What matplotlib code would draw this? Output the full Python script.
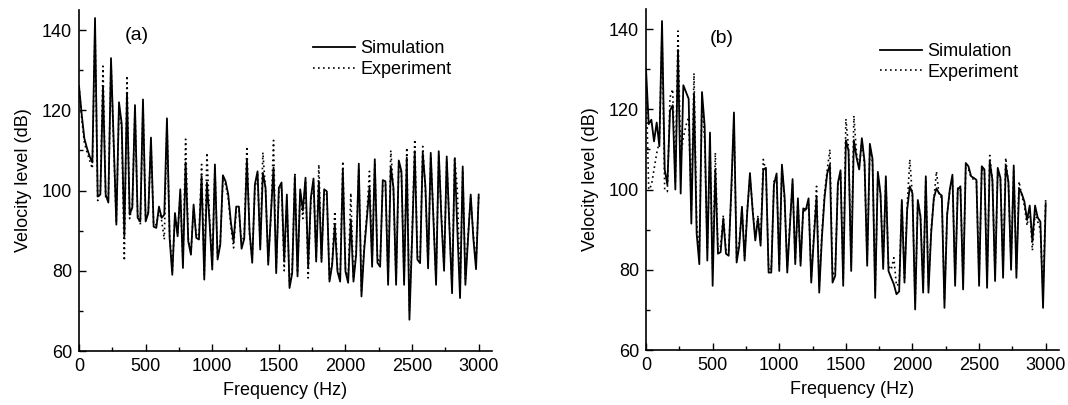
import matplotlib
matplotlib.use("Agg")
import matplotlib.pyplot as plt
from matplotlib.ticker import MultipleLocator
import numpy as np

plt.rcParams['font.family'] = ['Liberation Sans', 'DejaVu Sans']

# frequency axis, 20 Hz steps from 0 to 3000 Hz
freq = np.arange(0, 3001, 20)

# panel (a)
sim_a = [126, 119, 113, 110.5, 108.5, 107, 143, 98.5, 99, 126,
         99, 97, 133, 112, 91.5, 122, 116.7, 88.6, 124.4, 94,
         95.8, 121.3, 93.2, 92.3, 122.7, 92.3, 94.4, 113.2, 91, 90.7,
         96, 93.2, 94, 118, 88.2, 79, 94.4, 88.6, 100.3, 80.7,
         107, 87.3, 84, 96.5, 88.2, 87.8, 103.6, 77.8, 102, 92,
         80.3, 106.5, 82.8, 86.5, 103.8, 102.3, 99, 92, 87.3, 96,
         96, 85.5, 88, 107.7, 89.8, 82, 101.5, 104.8, 85.3, 104.4,
         100.7, 81.5, 94, 105.7, 79.4, 100.7, 102, 82.3, 99, 75.7,
         79.4, 103.6, 78.6, 100.3, 95, 103.2, 81, 98.2, 103, 82.3,
         102.3, 82.2, 100.3, 99.8, 77.3, 81.5, 91.5, 79.8, 77.3, 105.3,
         79.8, 77, 92.8, 77.3, 84, 106.7, 73.6, 85, 93, 100.7,
         81, 107.8, 82, 81, 102.6, 102.3, 76.5, 106, 100.7, 76.5,
         107.5, 104.8, 76.5, 108.2, 67.8, 88, 109.8, 82.8, 81.9, 109.4,
         101, 80.6, 109.4, 93, 76.5, 109.8, 93, 80, 108.5, 91,
         74.4, 108, 90, 73.2, 106, 76.5, 88, 99, 88, 80.4,
         99]

exp_a = [126, 118, 112, 109.5, 107.5, 105.5, 141, 97.5, 100, 131,
         98, 98, 132, 111, 92, 121, 115.5, 82.5, 128.6, 93,
         96.5, 120, 94, 91.5, 121.5, 93, 95, 112, 91.5, 91.5,
         95, 92.5, 87.8, 117, 89, 80, 93.5, 89.5, 99, 82,
         112.8, 88, 84.5, 95.5, 89, 88.5, 106.5, 79, 109.4, 93,
         81.5, 105.5, 83.5, 87, 102.5, 101.5, 98, 91, 85.7, 95,
         95, 86.5, 89, 111, 89, 83, 100.5, 104, 86, 109.5,
         100, 82.5, 93, 112.5, 80.5, 99.5, 101, 80, 98, 76.5,
         80.5, 104, 79.5, 99.5, 93, 102.5, 78.2, 97.5, 102, 83,
         106.5, 83, 99.5, 99, 78, 82, 94.8, 80.5, 78, 107.3,
         80.5, 78, 99.4, 78, 85, 105.5, 75, 86, 94, 104.8,
         82, 107, 83, 82, 101.5, 101.5, 77.5, 110, 100, 77.5,
         106.5, 104, 77.5, 110.7, 70, 89, 112.7, 83.5, 83, 111,
         100, 81.5, 108.5, 94, 77.5, 109, 94, 81, 107.5, 92,
         76, 108.4, 100, 74.5, 105, 78, 89, 98, 89, 82,
         98.5]

# panel (b)
sim_b = [130, 116.3, 117.4, 112, 116.7, 110.8, 142, 105, 101.2, 119.7,
         121, 100, 134.8, 99, 126, 124.3, 122.6, 91.5, 123.9, 89,
         81.4, 124.3, 115.9, 82.3, 114.2, 76, 105, 84, 84.4, 92.8,
         84, 83.5, 100, 119.2, 81.8, 86, 95.7, 82.3, 94.5, 104.1,
         94.9, 87.3, 92.8, 86, 105, 105.4, 79.3, 79.3, 101.2, 104,
         79.7, 106.2, 98.2, 79.3, 91, 102.6, 81.4, 97.8, 81, 95.3,
         95, 97.8, 76.8, 88, 98.2, 74.3, 88, 98, 104, 106.2,
         76.8, 78.5, 101.6, 104.8, 76, 112.3, 109.7, 79.7, 112.3, 108,
         105, 112.8, 107, 81, 111.4, 107.6, 73, 104.4, 99, 80.2,
         103.3, 79.7, 78, 76.4, 73.9, 74.6, 97.4, 76.8, 94.9, 100.8,
         99, 70.1, 97.4, 93.2, 74.3, 103.3, 74.3, 89, 97.8, 100.3,
         99, 98.5, 70.5, 93.6, 100, 103.7, 76, 100, 100.8, 75.1,
         106.6, 105.8, 103.3, 102.9, 102.4, 76, 105.8, 105, 75.5, 107,
         102.4, 77.2, 105.4, 102.9, 78, 106, 102, 80, 106, 78,
         100.3, 99, 97, 92.4, 96, 87, 96, 93, 92, 70.5,
         96.6]

exp_b = [128, 100, 101, 105, 109, 112, 139, 100, 99.5, 123,
         125, 102, 139.5, 108, 113, 116, 118, 95, 129, 92,
         84, 122, 112, 85, 111, 80, 109.2, 85, 86, 93.5,
         85, 84.5, 99, 117, 83, 87, 95, 83.5, 95, 103,
         95.5, 88, 93.5, 87, 107.5, 104.5, 80.5, 80, 102, 103,
         81, 105.5, 97, 80.5, 92, 101.5, 82.5, 97, 82, 95,
         94.5, 97, 78, 89, 100.8, 76, 89, 99, 105, 110,
         78.5, 80, 101, 104, 78, 117.6, 110.5, 81, 118.4, 109,
         105.5, 112.2, 106, 82.5, 110.5, 106.7, 75, 103.5, 98.5, 81.5,
         102.5, 81, 80, 83, 76, 76.5, 97, 78, 96, 107.5,
         98, 72, 97, 93.5, 76, 102.5, 76, 90, 97.5, 104.5,
         98.5, 98, 72.5, 94, 99.5, 103, 77.5, 100.5, 100, 77,
         105.5, 105, 103, 102.5, 102, 78, 105, 104.5, 77.5, 108.5,
         102, 79, 104.5, 102.5, 80, 107.9, 101.5, 82, 105, 80,
         102, 98.5, 96, 91, 95, 84.8, 94, 92, 90, 74,
         98]

fig = plt.figure(figsize=(10.68, 4.05), dpi=100)
ax_a = fig.add_axes([0.074, 0.1333, 0.3867, 0.842])
ax_b = fig.add_axes([0.6049, 0.1358, 0.3867, 0.842])

panels = [(ax_a, sim_a, exp_a, '(a)', 0.14, 0.925, 0.932),
          (ax_b, sim_b, exp_b, '(b)', 0.184, 0.912, 0.921)]
for ax, sim, exp, tag, tx, ty, ly in panels:
    ax.plot(freq, sim, color='black', lw=1.3, label='Simulation')
    ax.plot(freq, exp, color='black', lw=1.2, ls=(0, (1, 2)), label='Experiment')
    ax.set_xlim(0, 3100)
    ax.set_ylim(60, 145)
    ax.xaxis.set_minor_locator(MultipleLocator(250))
    ax.yaxis.set_major_locator(MultipleLocator(20))
    ax.yaxis.set_minor_locator(MultipleLocator(10))
    ax.set_xticks(np.arange(0, 3001, 500))
    ax.tick_params(which='both', direction='in', labelsize=13, width=1)
    ax.tick_params(which='major', length=5, pad=5)
    ax.tick_params(which='minor', length=3)
    ax.spines['top'].set_visible(False)
    ax.spines['right'].set_visible(False)
    ax.spines['left'].set_linewidth(1.2)
    ax.spines['bottom'].set_linewidth(1.2)
    ax.set_xlabel('Frequency (Hz)', fontsize=13, labelpad=5)
    ax.set_ylabel('Velocity level (dB)', fontsize=13, labelpad=7)
    ax.text(tx, ty, tag, transform=ax.transAxes,
            fontsize=14, ha='center', va='center')
    ax.legend(loc='upper left', bbox_to_anchor=(0.55, ly), frameon=False,
              fontsize=13, handlelength=2.3, handletextpad=0.3,
              labelspacing=0.2, borderaxespad=0)

fig.savefig('out.png', dpi=100)
